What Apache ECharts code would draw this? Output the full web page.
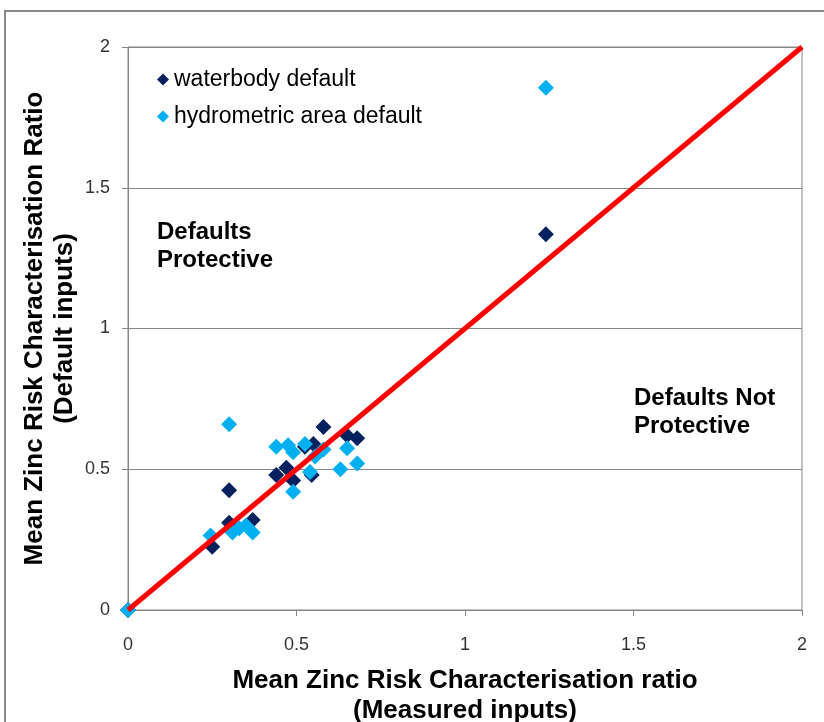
<!DOCTYPE html>
<html>
<head>
<meta charset="utf-8">
<script src="https://cdn.jsdelivr.net/npm/echarts@6/dist/echarts.min.js"></script>
<style>
  html, body { margin: 0; padding: 0; background: #fff; }
  #chart { width: 824px; height: 722px; }
</style>
</head>
<body>
<div id="chart"></div>
<script>
// Mean zinc risk characterisation ratios: measured inputs (x) vs default inputs (y)
const waterbodyX = [0, 0.25, 0.30, 0.30, 0.37, 0.44, 0.47, 0.49, 0.545, 0.525, 0.55, 0.58, 0.65, 0.68, 1.24];
const waterbodyY = [0, 0.225, 0.425, 0.31, 0.32, 0.48, 0.505, 0.46, 0.48, 0.58, 0.59, 0.65, 0.62, 0.61, 1.335];

const hydroX = [0, 0.245, 0.31, 0.33, 0.35, 0.37, 0.30, 0.44, 0.475, 0.49, 0.525, 0.555, 0.58, 0.65, 0.68, 0.63, 0.54, 0.49, 1.24];
const hydroY = [0, 0.265, 0.275, 0.29, 0.30, 0.275, 0.66, 0.58, 0.585, 0.56, 0.59, 0.545, 0.57, 0.575, 0.52, 0.50, 0.49, 0.42, 1.855];

// 1:1 reference line
const lineX = [0, 2];
const lineY = [0, 2];

const axisTicks = [0, 0.5, 1, 1.5, 2];

const zip = (xs, ys) => xs.map((x, i) => [x, ys[i]]);

const FONT = '"Liberation Sans", Arial, sans-serif';
const GRID_GREY = '#868686';

const chart = echarts.init(document.getElementById('chart'), null, { renderer: 'canvas' });

chart.setOption({
  animation: false,
  backgroundColor: '#fff',
  grid: {
    left: 128, top: 47, right: 22, bottom: 112,
    containLabel: false,
    outerBoundsMode: 'none',
    show: true, borderColor: GRID_GREY, borderWidth: 1
  },
  legend: {
    orient: 'vertical',
    left: 152, top: 63,
    itemWidth: 12, itemHeight: 12, itemGap: 14,
    icon: 'diamond',
    textStyle: { fontFamily: FONT, fontSize: 23, color: '#000' },
    data: ['waterbody default', 'hydrometric area default']
  },
  xAxis: {
    type: 'value',
    min: axisTicks[0], max: axisTicks[axisTicks.length - 1], interval: 0.5,
    name: 'Mean Zinc Risk Characterisation ratio\n(Measured inputs)',
    nameLocation: 'middle',
    nameGap: 56,
    nameMoveOverlap: false,
    nameTextStyle: { fontFamily: FONT, fontSize: 26, fontWeight: 'bold', color: '#000', lineHeight: 30 },
    axisLine: { show: true, lineStyle: { color: GRID_GREY, width: 1 } },
    axisTick: { show: true, length: 6, lineStyle: { color: GRID_GREY } },
    axisLabel: { margin: 26, fontFamily: FONT, fontSize: 18, color: '#333' },
    splitLine: { show: false }
  },
  yAxis: {
    type: 'value',
    min: axisTicks[0], max: axisTicks[axisTicks.length - 1], interval: 0.5,
    name: 'Mean Zinc Risk Characterisation Ratio\n(Default inputs)',
    nameLocation: 'middle',
    nameGap: 48,
    nameRotate: 90,
    nameMoveOverlap: false,
    nameTextStyle: { fontFamily: FONT, fontSize: 26, fontWeight: 'bold', color: '#000', lineHeight: 30 },
    axisLine: { show: true, lineStyle: { color: GRID_GREY, width: 1 } },
    axisTick: { show: true, length: 6, lineStyle: { color: GRID_GREY } },
    axisLabel: { margin: 18, fontFamily: FONT, fontSize: 18, color: '#333' },
    splitLine: { show: true, lineStyle: { color: GRID_GREY, width: 1 } }
  },
  series: [
    {
      name: 'waterbody default',
      type: 'scatter',
      symbol: 'diamond',
      symbolSize: 16,
      itemStyle: { color: '#03215f', opacity: 1 },
      data: zip(waterbodyX, waterbodyY),
      z: 2
    },
    {
      name: 'hydrometric area default',
      type: 'scatter',
      symbol: 'diamond',
      symbolSize: 16,
      itemStyle: { color: '#00b0f0', opacity: 1 },
      data: zip(hydroX, hydroY),
      z: 3
    },
    {
      name: '1:1',
      type: 'line',
      showSymbol: false,
      symbol: 'none',
      lineStyle: { color: '#ff0000', width: 5 },
      data: zip(lineX, lineY),
      z: 4
    }
  ],
  graphic: [
    {
      type: 'rect',
      shape: { x: 5, y: 11, width: 840, height: 740 },
      style: { fill: 'none', stroke: '#8a8a8a', lineWidth: 2 },
      silent: true, z: 0
    },
    {
      type: 'text',
      left: 157, top: 218,
      style: {
        text: 'Defaults\nProtective',
        font: 'bold 24px ' + FONT,
        fill: '#000',
        lineHeight: 28
      }
    },
    {
      type: 'text',
      left: 634, top: 384,
      style: {
        text: 'Defaults Not\nProtective',
        font: 'bold 24px ' + FONT,
        fill: '#000',
        lineHeight: 28
      }
    }
  ]
});
</script>
</body>
</html>
